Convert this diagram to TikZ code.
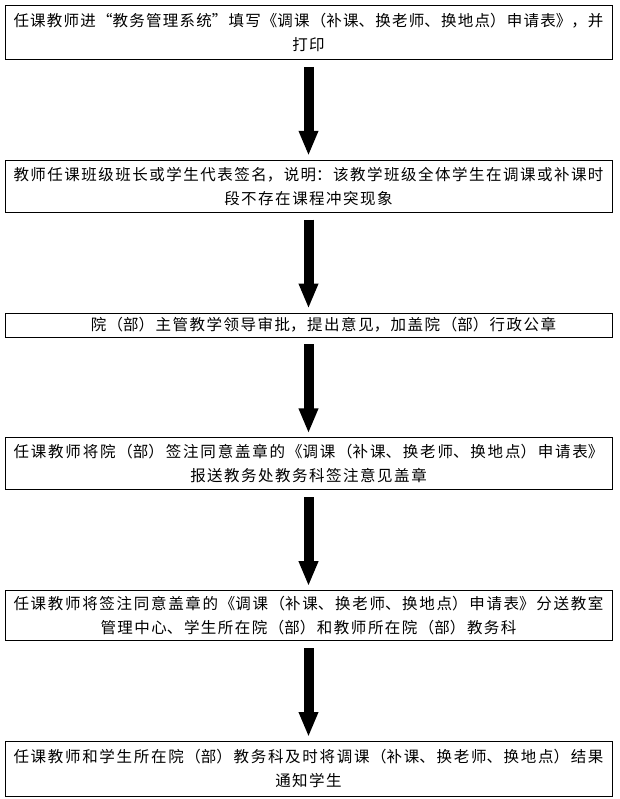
\documentclass[tikz,border=0pt]{standalone}
\usepackage{fontspec}
\setmainfont{Noto Sans CJK SC}
\usetikzlibrary{positioning,arrows.meta}
\XeTeXlinebreaklocale "zh"
\XeTeXlinebreakskip=1.5pt minus 1.5pt
\newcommand{\fullline}[1]{\parbox{590pt}{\XeTeXlinebreakskip=1.5pt plus 1fil minus 1.5pt\parfillskip=0pt #1}}
\newcommand{\restline}[1]{\parbox{590pt}{\centering #1}}

\begin{document}
\begin{tikzpicture}[
node distance=100pt,
every node/.style={font=\fontsize{15.5}{24}\selectfont},
box/.style={draw, line width=0.8pt, align=center, text width=595pt, inner xsep=6pt, inner ysep=2pt, minimum height=52pt},
bigarrow/.style={line width=10pt, -{Triangle[width=18pt,length=25pt]}, shorten <=7pt, shorten >=4pt}
]
\useasboundingbox (0,0) rectangle (619pt,-799pt);
\node[box, anchor=north, minimum height=54pt] (apply) at (308.5pt,-5pt) {\fullline{任课教师进“教务管理系统”填写《调课（补课、换老师、换地点）申请表》，并}\\\restline{打印}};
\node[box, below=of apply] (sign) {\fullline{教师任课班级班长或学生代表签名，说明：该教学班级全体学生在调课或补课时}\\\restline{段不存在课程冲突现象}};
\node[box, below=of sign, minimum height=24pt] (approve) {\hspace*{30pt}院（部）主管教学领导审批，提出意见，加盖院（部）行政公章};
\node[box, below=of approve] (submit) {\fullline{任课教师将院（部）签注同意盖章的《调课（补课、换老师、换地点）申请表》}\\\restline{报送教务处教务科签注意见盖章}};
\node[box, below=of submit, minimum height=50pt] (distribute) {\fullline{任课教师将签注同意盖章的《调课（补课、换老师、换地点）申请表》分送教室}\\\restline{管理中心、学生所在院（部）和教师所在院（部）教务科}};
\node[box, below=of distribute, minimum height=55pt] (notify) {\fullline{任课教师和学生所在院（部）教务科及时将调课（补课、换老师、换地点）结果}\\\restline{通知学生}};
\draw[bigarrow] (apply) -- (sign);
\draw[bigarrow] (sign) -- (approve);
\draw[bigarrow] (approve) -- (submit);
\draw[bigarrow] (submit) -- (distribute);
\draw[bigarrow] (distribute) -- (notify);
\end{tikzpicture}
\end{document}
